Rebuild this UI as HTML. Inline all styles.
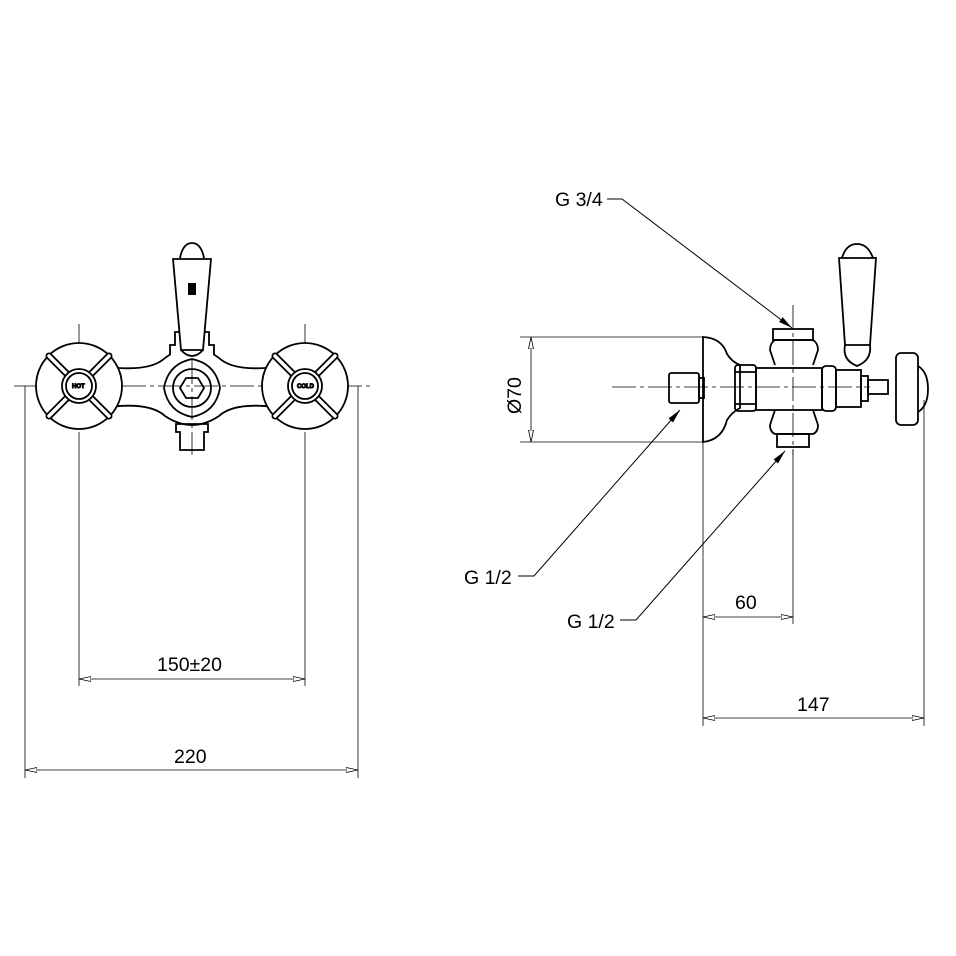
<!DOCTYPE html>
<html><head><style>body{margin:0;background:#fff}svg{display:block}text{font-family:"Liberation Sans",sans-serif;font-size:19.5px;fill:#000}</style></head><body>
<svg width="956" height="956" viewBox="0 0 956 956" xmlns="http://www.w3.org/2000/svg">
<defs>
<marker id="oa" viewBox="0 0 12 6" refX="12" refY="3" markerWidth="12" markerHeight="6" orient="auto-start-reverse" markerUnits="userSpaceOnUse"><path d="M0,0.5 L12,3 L0,5.5 Z" fill="#fff" stroke="#000" stroke-width="0.8"/></marker>
<marker id="fa" viewBox="0 0 14 6" refX="14" refY="3" markerWidth="14" markerHeight="6" orient="auto" markerUnits="userSpaceOnUse"><path d="M0,0 L14,3 L0,6 Z" fill="#000"/></marker>
</defs>
<g fill="none" stroke="#000" stroke-width="1">
<g stroke-dasharray="24,4,4,4" stroke-width="0.8">
<line x1="14" y1="386" x2="372" y2="386"/>
<line x1="79" y1="324" x2="79" y2="450"/>
<line x1="305" y1="324" x2="305" y2="450"/>
<line x1="192" y1="360" x2="192" y2="455"/>
</g>
<line x1="79" y1="450" x2="79" y2="686" stroke-width="0.8"/>
<line x1="305" y1="450" x2="305" y2="686" stroke-width="0.8"/>
<line x1="25" y1="386" x2="25" y2="778" stroke-width="0.8"/>
<line x1="358" y1="386" x2="358" y2="778" stroke-width="0.8"/>
<line x1="79" y1="679" x2="305" y2="679" marker-start="url(#oa)" marker-end="url(#oa)" stroke-width="0.8"/>
<line x1="25" y1="770" x2="358" y2="770" marker-start="url(#oa)" marker-end="url(#oa)" stroke-width="0.8"/>
<g stroke-width="1.8">
<path d="M108,367 Q150,372 165,358 Q192,338 219,358 Q234,372 276,367"/>
<path d="M108,407 Q150,402 165,416 Q192,434 219,416 Q234,402 276,407"/>
<circle cx="79" cy="386" r="43" fill="#fff"/>
<circle cx="305" cy="386" r="43" fill="#fff"/>
<path d="M192,359 Q216,364 220,388 Q216,412 192,417 Q168,412 164,388 Q168,364 192,359Z"/>
<circle cx="192" cy="388" r="19"/>
<path d="M180,388 L186,378 L198,378 L204,388 L198,398 L186,398Z"/>
<path d="M176,424 L208,424 L208,432 L204,432 L204,450 L180,450 L180,432 L176,432Z"/>
<g stroke-width="7" stroke-linecap="round"><line x1="49" y1="356" x2="109" y2="416"/><line x1="109" y1="356" x2="49" y2="416"/><line x1="275" y1="356" x2="335" y2="416"/><line x1="335" y1="356" x2="275" y2="416"/></g>
<g stroke="#fff" stroke-width="3.5" stroke-linecap="round"><line x1="49" y1="356" x2="109" y2="416"/><line x1="109" y1="356" x2="49" y2="416"/><line x1="275" y1="356" x2="335" y2="416"/><line x1="335" y1="356" x2="275" y2="416"/></g>
<circle cx="79" cy="386" r="17" fill="#fff"/><circle cx="79" cy="386" r="13"/>
<circle cx="305" cy="386" r="17" fill="#fff"/><circle cx="305" cy="386" r="13"/>
<path d="M170,355 L170,345 L175,345 L175,332 L209,332 L209,345 L214,345 L214,355" fill="#fff"/>
<path d="M173,259 L211,259 L203,350 L181,350Z" fill="#fff"/>
<path d="M181,350 Q192,362 203,350"/>
<path d="M180,258 Q183,243 192,243 Q201,243 204,258"/>
</g>
<text x="72" y="388" style="font-size:6px;font-weight:bold">HOT</text>
<text x="297" y="388" style="font-size:6px;font-weight:bold">COLD</text>
<rect x="188" y="283" width="8" height="12" fill="#000" stroke="none"/>

<g stroke-dasharray="24,4,4,4" stroke-width="0.8">
<line x1="612" y1="387" x2="870" y2="387"/>
<line x1="793" y1="305" x2="793" y2="455"/>
</g>
<line x1="520" y1="337" x2="703" y2="337" stroke-width="0.8"/>
<line x1="520" y1="442" x2="703" y2="442" stroke-width="0.8"/>
<line x1="531" y1="337" x2="531" y2="442" marker-start="url(#oa)" marker-end="url(#oa)" stroke-width="0.8"/>
<line x1="703" y1="442" x2="703" y2="726" stroke-width="0.8"/>
<line x1="793" y1="450" x2="793" y2="624" stroke-width="0.8"/>
<line x1="924" y1="400" x2="924" y2="726" stroke-width="0.8"/>
<line x1="703" y1="617" x2="793" y2="617" marker-start="url(#oa)" marker-end="url(#oa)" stroke-width="0.8"/>
<line x1="703" y1="718" x2="924" y2="718" marker-start="url(#oa)" marker-end="url(#oa)" stroke-width="0.8"/>
<g stroke-width="1.8">
<path d="M703,337 Q722,338 727,354 Q732,362 740,365 L740,408 Q732,412 727,420 Q722,440 703,442Z"/>
<rect x="669" y="373" width="30" height="30" rx="2"/>
<rect x="699" y="378" width="5" height="20"/>
<rect x="735" y="365" width="21" height="46" rx="3"/>
<line x1="735" y1="372" x2="756" y2="372"/><line x1="735" y1="404" x2="756" y2="404"/>
<path d="M775,365 L770,350 Q770,343 775,340 L813,340 Q818,343 818,350 L813,365"/>
<path d="M775,410 L770,425 Q770,432 775,434 L813,434 Q818,432 818,425 L813,410"/>
<rect x="773" y="329" width="40" height="11"/>
<rect x="777" y="434" width="32" height="13"/>
<rect x="756" y="368" width="66" height="42"/>
<rect x="822" y="366" width="14" height="45" rx="4"/>
<rect x="836" y="370" width="25" height="37"/>
<rect x="861" y="376" width="7" height="25"/>
<rect x="868" y="380" width="20" height="14"/>
<rect x="896" y="353" width="22" height="72" rx="5"/>
<path d="M918,366 Q928,372 928,389 Q928,406 918,412"/>
<path d="M839,258 L876,258 L870,345 L845,345Z" fill="#fff"/>
<path d="M845,345 Q842,360 857,366 Q872,360 870,345"/>
<path d="M842,258 Q846,244 857,244 Q868,244 873,258"/>
</g>
<path d="M607,199 L622,199 L792,328" stroke-width="1" marker-end="url(#fa)"/>
<path d="M518,576 L534,576 L680,410" stroke-width="1" marker-end="url(#fa)"/>
<path d="M620,620 L636,620 L785,451" stroke-width="1" marker-end="url(#fa)"/>
</g>
<text x="157" y="671">150±20</text>
<text x="174" y="763">220</text>
<text x="735" y="609">60</text>
<text x="797" y="711">147</text>
<text x="555" y="206">G 3/4</text>
<text x="464" y="584">G 1/2</text>
<text x="567" y="628">G 1/2</text>
<text x="0" y="0" transform="translate(521,414) rotate(-90)">Ø70</text>
</svg>
</body></html>
